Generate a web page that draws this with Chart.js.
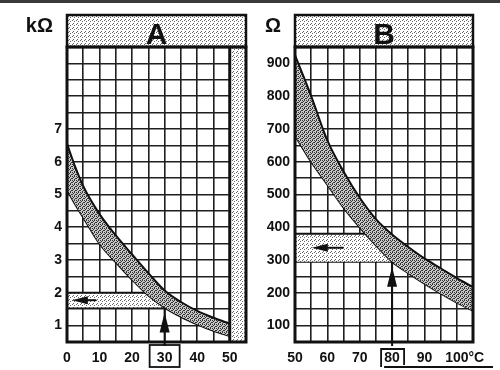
<!DOCTYPE html>
<html>
<head>
<meta charset="utf-8">
<script src="https://cdn.jsdelivr.net/npm/chart.js@4"></script>
<style>
  body { margin: 0; background: #fff; }
  #wrap { position: relative; width: 500px; height: 370px; overflow: hidden; background: #fff; }
  #topline { position: absolute; left: 0; top: 0; width: 500px; height: 3px; background: #3a3a3a; z-index: 3; }
  .panel { position: absolute; top: 0; height: 370px; }
</style>
</head>
<body>
<div id="wrap">
  <div id="topline"></div>
  <div class="panel" style="left:0;width:254px;z-index:1"><canvas id="chartA" width="254" height="370"></canvas></div>
  <div class="panel" style="left:250px;width:250px;z-index:2"><canvas id="chartB" width="250" height="370"></canvas></div>
</div>
<script>
// Panel A: kOhm vs temperature 0..50
const tempA  = [0, 2.5, 5, 10, 15, 20, 25, 30, 35, 40, 45, 50];
const upperA = [6.55, 5.85, 5.25, 4.4, 3.75, 3.17, 2.6, 2.07, 1.72, 1.45, 1.24, 1.06];
const lowerA = [5.15, 4.7, 4.3, 3.5, 2.93, 2.4, 1.92, 1.55, 1.27, 1.04, 0.84, 0.68];
const xLabelsA = [0, 10, 20, 30, 40, 50];
const yLabelsA = [1, 2, 3, 4, 5, 6, 7];
const readA = [30, 1.55, 2.0];     // temperature, low, high reading
const arrowA = [1.5, 9];           // left arrow tip / tail (temperature)

// Panel B: Ohm vs temperature 50..100
const tempB  = [50, 55, 60, 65, 70, 75, 80, 85, 90, 95, 100, 105];
const upperB = [925, 800, 665, 570, 490, 425, 378, 340, 305, 275, 245, 218];
const lowerB = [680, 600, 530, 460, 400, 345, 295, 260, 228, 198, 170, 145];
const xLabelsB = [50, 60, 70, 80, 90, 100];
const yLabelsB = [100, 200, 300, 400, 500, 600, 700, 800, 900];
const readB = [80, 295, 380];
const arrowB = [55.2, 65];

const FONT = '"Liberation Sans", Arial, sans-serif';

function dots(size, bg, dot, pts) {
  const c = document.createElement('canvas');
  c.width = c.height = size;
  const g = c.getContext('2d');
  g.fillStyle = bg;
  g.fillRect(0, 0, size, size);
  g.fillStyle = dot;
  pts.forEach(([i, j]) => g.fillRect(i, j, 1, 1));
  return g.createPattern(c, 'repeat');
}
const lightDots = dots(4, '#fff', '#666', [[0, 0], [2, 1], [1, 3]]);
const bandDots = dots(4, '#c8c8c8', '#333', [[0, 0], [2, 0], [1, 1], [3, 2], [0, 2], [2, 3]]);

const pts = (xs, ys) => xs.map((x, i) => ({ x: x, y: ys[i] }));

// header box, frame, reading arrows and boxed tick
const panelDecor = {
  id: 'panelDecor',
  afterDraw(chart, args, o) {
    const { ctx, chartArea: a, scales: { x, y } } = chart;
    ctx.save();
    ctx.fillStyle = lightDots;
    ctx.fillRect(a.left, 15, a.right - a.left, a.top - 15);
    ctx.strokeStyle = '#111';
    ctx.lineWidth = 2.5;
    ctx.strokeRect(a.left, 15, a.right - a.left, a.top - 15);
    ctx.fillStyle = '#111';
    ctx.font = 'bold 30px ' + FONT;
    ctx.textAlign = 'center';
    ctx.textBaseline = 'alphabetic';
    ctx.fillText(o.letter, (a.left + a.right) / 2, a.top - 3);
    ctx.font = 'bold 20px ' + FONT;
    ctx.textAlign = 'right';
    ctx.fillText(o.unit, a.left - 14, 32);

    if (o.strip) {
      ctx.lineWidth = 3;
      const sx = x.getPixelForValue(o.strip);
      ctx.beginPath(); ctx.moveTo(sx, a.top); ctx.lineTo(sx, a.bottom); ctx.stroke();
    }
    ctx.lineWidth = 3;
    ctx.strokeRect(a.left, a.top, a.right - a.left, a.bottom - a.top);

    // up arrow to the low reading
    const px = x.getPixelForValue(o.read[0]);
    const tip = y.getPixelForValue(o.read[1]);
    ctx.lineWidth = 2;
    ctx.beginPath(); ctx.moveTo(px, a.bottom + 4); ctx.lineTo(px, tip); ctx.stroke();
    ctx.beginPath();
    ctx.moveTo(px, tip + 5); ctx.lineTo(px - 5, tip + 25); ctx.lineTo(px + 5, tip + 25);
    ctx.closePath(); ctx.fill();

    // left arrow inside the reading band
    const my = (y.getPixelForValue(o.read[1]) + y.getPixelForValue(o.read[2])) / 2;
    const ax = x.getPixelForValue(o.arrow[0]);
    const tx = x.getPixelForValue(o.arrow[1]);
    ctx.beginPath(); ctx.moveTo(ax + 12, my); ctx.lineTo(tx, my); ctx.stroke();
    ctx.beginPath();
    ctx.moveTo(ax, my); ctx.lineTo(ax + 16, my - 4); ctx.lineTo(ax + 16, my + 4);
    ctx.closePath(); ctx.fill();

    // box around the read temperature
    ctx.lineWidth = 1.8;
    if (o.boxStyle === 'box') {
      ctx.strokeRect(px - 15, a.bottom + 3, 30, 22);
    } else {
      ctx.beginPath();
      ctx.moveTo(px - 11, a.bottom + 25); ctx.lineTo(px - 11, a.bottom + 7);
      ctx.lineTo(px + 12, a.bottom + 7); ctx.lineTo(px + 12, a.bottom + 23);
      ctx.moveTo(px - 8, a.bottom + 25); ctx.lineTo(chart.width - 7, a.bottom + 25);
      ctx.stroke();
    }
    if (o.degree) {
      ctx.font = 'bold 14px ' + FONT;
      ctx.textAlign = 'left';
      ctx.textBaseline = 'middle';
      const dx = x.getPixelForValue(o.degree) + ctx.measureText('100').width / 2;
      ctx.fillText('°C', dx, a.bottom + 16);
    }
    ctx.restore();
  }
};

function makeChart(id, cfg) {
  const grid = { color: '#1f1f1f', lineWidth: 1.6, drawTicks: false };
  const tickFont = { family: FONT, size: 14, weight: 'bold' };
  return new Chart(document.getElementById(id), {
    type: 'line',
    data: { datasets: cfg.datasets },
    options: {
      responsive: false,
      animation: false,
      layout: { padding: { top: 47, right: cfg.padRight, left: 0, bottom: 0 } },
      elements: { point: { radius: 0 } },
      plugins: {
        legend: { display: false },
        tooltip: { enabled: false },
        panelDecor: cfg.decor
      },
      scales: {
        x: {
          type: 'linear', min: cfg.xMin, max: cfg.xMin + 55,
          grid: grid, border: { display: false },
          ticks: {
            stepSize: 5, maxTicksLimit: 50, autoSkip: false, maxRotation: 0, padding: 8,
            color: '#111', font: tickFont,
            callback: v => cfg.xLabels.includes(v) ? String(v) : ''
          },
          afterFit: s => { s.height = 28; }
        },
        y: {
          type: 'linear', min: cfg.yMin, max: cfg.yMax,
          grid: grid, border: { display: false },
          ticks: {
            stepSize: cfg.yStep, maxTicksLimit: 50, autoSkip: false, padding: 5,
            color: '#111', font: tickFont,
            callback: v => cfg.yLabels.includes(v) ? String(v) : ''
          },
          afterFit: s => { s.width = cfg.yWidth; }
        }
      }
    },
    plugins: [panelDecor]
  });
}

const curve = {
  borderColor: '#111', borderWidth: 2,
  cubicInterpolationMode: 'monotone'
};
const flat = { borderColor: '#111', borderWidth: 2 };

makeChart('chartA', {
  xMin: 0, yMin: 0.5, yMax: 9.5, yStep: 0.5, yWidth: 67, padRight: 2,
  xLabels: xLabelsA, yLabels: yLabelsA,
  decor: { letter: 'A', unit: 'kΩ', read: readA, arrow: arrowA, boxStyle: 'box', strip: 50 },
  datasets: [
    Object.assign({ data: pts(tempA, upperA), fill: '+1', backgroundColor: bandDots }, curve),
    Object.assign({ data: pts(tempA, lowerA), fill: false }, curve),
    Object.assign({ data: pts([0, readA[0]], [readA[2], readA[2]]), fill: '+1', backgroundColor: lightDots }, flat),
    Object.assign({ data: pts([0, readA[0]], [readA[1], readA[1]]), fill: false }, flat),
    { data: pts([50, 55], [9.5, 9.5]), fill: 'start', backgroundColor: lightDots, borderWidth: 0 }
  ]
});

makeChart('chartB', {
  xMin: 50, yMin: 50, yMax: 950, yStep: 50, yWidth: 45, padRight: 27,
  xLabels: xLabelsB, yLabels: yLabelsB,
  decor: { letter: 'B', unit: 'Ω', read: readB, arrow: arrowB, boxStyle: 'bracket', degree: 100 },
  datasets: [
    Object.assign({ data: pts(tempB, upperB), fill: '+1', backgroundColor: bandDots }, curve),
    Object.assign({ data: pts(tempB, lowerB), fill: false }, curve),
    Object.assign({ data: pts([50, readB[0]], [readB[2], readB[2]]), fill: '+1', backgroundColor: lightDots }, flat),
    Object.assign({ data: pts([50, readB[0]], [readB[1], readB[1]]), fill: false }, flat)
  ]
});
</script>
</body>
</html>
